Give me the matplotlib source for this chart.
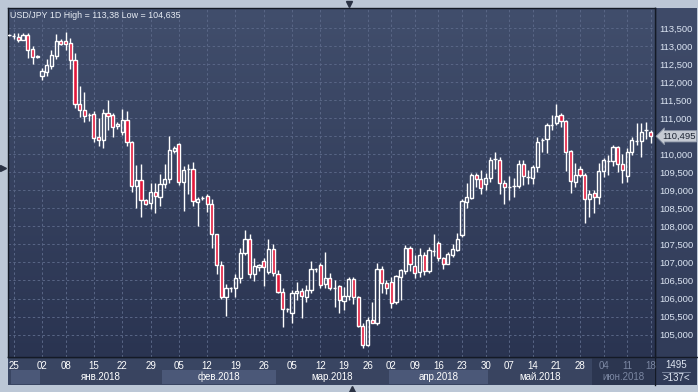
import numpy as np
import matplotlib
matplotlib.use('Agg')
import matplotlib.pyplot as plt
from matplotlib.patches import Rectangle
from matplotlib.colors import LinearSegmentedColormap
from matplotlib.transforms import blended_transform_factory

plt.rcParams['font.family'] = ['Liberation Sans', 'DejaVu Sans']

# daily USD/JPY bars (open, high, low, close)
opens = [113.29, 113.28, 113.26, 113.17, 113.30, 112.91, 112.68, 112.17, 112.28, 112.45,
         112.72, 113.13, 113.13, 113.07, 112.60, 111.38, 111.21, 111.08, 111.10, 110.47,
         110.38, 111.14, 111.08, 110.79, 110.62, 110.96, 110.33, 109.13, 109.28, 108.73,
         108.66, 108.94, 108.82, 109.16, 109.30, 110.09, 110.27, 109.24, 109.58, 109.58,
         108.68, 108.79, 108.85, 108.61, 107.80, 106.92, 106.05, 106.28, 106.28, 106.58,
         107.25, 107.66, 106.67, 106.86, 107.04, 106.74, 107.36, 106.67, 106.19, 105.70,
         105.59, 106.16, 106.21, 106.05, 106.25, 106.81, 106.93, 106.39, 106.56, 106.30,
         106.34, 105.94, 106.07, 106.53, 106.03, 105.24, 104.71, 105.40, 105.33, 106.83,
         106.42, 106.45, 105.90, 106.60, 106.77, 107.39, 106.90, 106.74, 107.20, 106.77,
         107.32, 107.53, 107.11, 106.97, 107.20, 107.34, 107.76, 108.68, 108.78, 109.41,
         109.30, 109.16, 109.35, 109.87, 109.85, 109.19, 109.10, 109.12, 109.12, 109.74,
         109.37, 109.35, 109.65, 110.39, 110.41, 110.80, 110.87, 111.08, 110.92, 110.08,
         109.23, 109.60, 109.42, 108.75, 108.93, 108.80, 109.54, 109.81, 109.81, 110.19,
         109.72, 109.40, 110.06, 110.37, 110.37, 110.67, 110.62]
highs = [113.32, 113.37, 113.35, 113.36, 113.37, 113.00, 112.75, 112.39, 112.63, 112.88,
         113.32, 113.19, 113.38, 113.21, 112.79, 111.89, 111.73, 111.13, 111.19, 111.01,
         111.25, 111.50, 111.13, 110.88, 111.25, 111.19, 110.36, 109.71, 109.74, 108.75,
         109.19, 109.19, 109.45, 109.74, 110.50, 110.22, 110.30, 109.67, 109.74, 109.78,
         108.80, 108.84, 108.89, 108.77, 107.80, 107.05, 106.40, 106.33, 106.69, 107.39,
         107.89, 107.80, 107.11, 106.96, 107.11, 107.64, 107.51, 106.79, 106.28, 105.75,
         106.23, 106.46, 106.28, 106.37, 107.04, 106.85, 106.99, 107.29, 106.71, 106.51,
         106.37, 106.33, 106.60, 106.60, 106.07, 105.31, 105.50, 105.91, 106.99, 106.90,
         106.51, 106.60, 106.65, 106.83, 107.48, 107.45, 107.20, 107.39, 107.30, 107.43,
         107.79, 107.60, 107.16, 107.30, 107.51, 107.82, 108.75, 109.19, 109.48, 109.48,
         109.56, 109.48, 109.93, 110.05, 109.93, 109.28, 109.39, 109.35, 109.85, 109.85,
         109.56, 109.70, 110.48, 110.46, 110.87, 111.08, 111.40, 111.13, 110.96, 110.11,
         109.76, 109.67, 109.48, 109.00, 109.00, 109.76, 109.88, 109.97, 110.25, 110.22,
         110.00, 110.16, 110.48, 110.85, 110.87, 110.90, 110.68]
lows = [113.28, 113.20, 113.11, 113.15, 112.67, 112.49, 112.66, 112.05, 112.17, 112.37,
        112.65, 113.02, 112.88, 112.37, 111.27, 111.04, 110.90, 110.93, 110.33, 110.23,
        110.18, 110.67, 110.48, 110.71, 110.53, 110.23, 108.96, 108.50, 108.27, 108.60,
        108.47, 108.38, 108.56, 109.05, 109.19, 110.02, 109.14, 108.43, 108.89, 108.56,
        108.01, 108.73, 108.40, 107.39, 106.69, 106.00, 105.51, 106.19, 106.05, 106.44,
        107.20, 106.58, 106.49, 106.77, 106.35, 106.68, 106.62, 106.14, 105.22, 105.63,
        105.33, 105.96, 105.45, 105.91, 106.14, 106.74, 106.28, 106.28, 106.23, 105.77,
        105.59, 105.68, 105.96, 105.86, 105.20, 104.635, 104.68, 105.31, 105.26, 106.14,
        106.12, 105.73, 105.85, 105.95, 106.68, 106.77, 106.58, 106.60, 106.65, 106.70,
        107.18, 107.05, 106.83, 106.95, 107.16, 107.32, 107.71, 108.50, 108.75, 109.10,
        108.91, 109.00, 109.23, 109.60, 108.89, 108.62, 108.73, 108.80, 109.05, 109.14,
        109.17, 109.17, 109.51, 110.06, 110.04, 110.68, 110.80, 110.76, 109.54, 108.93,
        109.10, 109.36, 108.10, 108.25, 108.38, 108.63, 109.36, 109.42, 109.67, 109.51,
        109.19, 109.24, 109.97, 110.25, 109.93, 110.43, 110.32]
closes = [113.31, 113.27, 113.17, 113.30, 112.90, 112.68, 112.73, 112.30, 112.47, 112.74,
          113.13, 113.06, 113.06, 112.60, 111.38, 111.21, 111.05, 111.08, 110.46, 110.38,
          111.13, 111.06, 110.76, 110.84, 110.96, 110.33, 109.13, 109.28, 108.73, 108.63,
          108.96, 108.83, 109.16, 109.30, 110.11, 110.16, 109.24, 109.56, 109.58, 108.70,
          108.77, 108.79, 108.61, 107.80, 106.92, 106.05, 106.28, 106.28, 106.58, 107.25,
          107.66, 106.67, 106.90, 106.93, 106.88, 107.36, 106.70, 106.19, 105.70, 105.70,
          106.14, 106.21, 106.07, 106.25, 106.81, 106.81, 106.37, 106.56, 106.30, 106.30,
          105.96, 106.07, 106.53, 106.03, 105.24, 104.71, 105.40, 105.31, 106.83, 106.42,
          106.28, 105.88, 106.62, 106.79, 107.39, 106.95, 106.71, 107.20, 106.77, 107.34,
          107.32, 107.11, 106.97, 107.23, 107.36, 107.64, 108.70, 108.80, 109.41, 109.30,
          109.05, 109.33, 109.85, 109.87, 109.19, 109.10, 109.10, 109.12, 109.74, 109.39,
          109.37, 109.65, 110.34, 110.39, 110.80, 110.80, 111.05, 110.92, 110.07, 109.25,
          109.42, 109.42, 108.75, 108.91, 108.80, 109.53, 109.84, 109.81, 110.20, 109.72,
          109.56, 110.06, 110.39, 110.37, 110.62, 110.67, 110.495]

# axis labels
tick_pos = [1, 7, 12, 18, 24, 30, 36, 42, 48, 54, 60, 66, 71, 76, 81, 86, 91, 96,
            101, 106, 111, 116, 121, 126, 131, 136]
tick_lab = ['25', '02', '08', '15', '22', '29', '05', '12', '19', '26', '05', '12', '19',
            '26', '02', '09', '16', '23', '30', '07', '14', '21', '28', '04', '11', '18']
month_names = ['', 'янв.2018', 'фев.2018', 'мар.2018', 'апр.2018', 'май.2018', 'июн.2018']
month_edges = [0.5, 6.5, 32.5, 56.5, 80.5, 101.5, 123.5, 136.9]
price_ticks = [105.0, 105.5, 106.0, 106.5, 107.0, 107.5, 108.0, 108.5, 109.0,
               109.5, 110.0, 110.5, 111.0, 111.5, 112.0, 112.5, 113.0, 113.5]
total_bars = 1495

o = np.array(opens); h = np.array(highs); l = np.array(lows); c = np.array(closes)
idx = np.arange(len(o))

W, H = 698, 392
fig = plt.figure(figsize=(W / 100, H / 100), dpi=100, facecolor='#bcc7d6')
grad = np.linspace(0, 1, 256).reshape(-1, 1)

# frame / panels in pixel coords
bg = fig.add_axes([0, 0, 1, 1], zorder=-1)
bg.imshow(grad, extent=(8, 697, 385, 8), aspect='auto',
          cmap=LinearSegmentedColormap.from_list('p', ['#3f4b69', '#303b58']))
bg.add_patch(Rectangle((8, 357), 647, 28, color='#394562', lw=0))
bg.plot([8, 697], [357, 357], color='#141a26', lw=1)
bg.plot([655, 655], [8, 385], color='#141a26', lw=1)
bg.plot([662, 690], [371.5, 371.5], color='#8792aa', lw=0.6)
bg.plot(349, 3.5, marker='v', color='#2a3244', ms=5)
bg.plot(352, 389, marker='^', color='#2a3244', ms=5)
bg.plot(3, 168, marker='>', color='#2a3244', ms=5)
bg.set_xlim(0, W)
bg.set_ylim(H, 0)
bg.axis('off')

ax = fig.add_axes([8 / W, 1 - 357 / H, 647 / W, 349 / H])
ax.patch.set_visible(False)
ax.imshow(grad, extent=(0, 1, 0, 1), transform=ax.transAxes, aspect='auto', zorder=0,
          cmap=LinearSegmentedColormap.from_list('g', ['#414e6c', '#2a3451']))

# candles: wicks split so hollow bodies stay empty
up = c >= o
btop = np.maximum(o, c)
bbot = np.minimum(o, c)
ax.vlines(idx, btop, h, color='white', lw=1, zorder=2)
ax.vlines(idx, l, bbot, color='white', lw=1, zorder=2)
ax.bar(idx[up], (c - o)[up], bottom=o[up], width=0.68, facecolor='none',
       edgecolor='white', lw=1, zorder=3)
ax.bar(idx[~up], (o - c)[~up], bottom=c[~up], width=0.68, facecolor='#e3173a',
       edgecolor='white', lw=1, zorder=3)

ax.set_xlim(-0.2, 136.9)
ax.set_ylim(104.38, 114.05)

ylabels = [f'{v:.3f}'.replace('.', ',') for v in price_ticks]
ylabels[price_ticks.index(110.5)] = ''
ax.yaxis.tick_right()
ax.set_yticks(price_ticks, ylabels)
ax.set_xticks(tick_pos, tick_lab)
ax.tick_params(axis='y', length=0, pad=3, labelsize=6.8, labelcolor='#dce5f3')
ax.tick_params(axis='x', length=0, pad=3, labelsize=7, labelcolor='white')
for t in ax.get_xticklabels()[-3:]:
    t.set_color('#7b87a2')
ax.grid(True, color='#596686', ls=(0, (2.5, 2.5)), lw=0.7)
ax.set_axisbelow(True)
for s in ax.spines.values():
    s.set_color('#141a26')
    s.set_linewidth(1)

# month strip (kept under the tick labels, which sit at zorder 0.5)
tr = blended_transform_factory(ax.transData, ax.transAxes)
band_cols = ['#4b5878', '#394460', '#4b5878', '#394460', '#4b5878', '#394460', '#2c3650']
for i, name in enumerate(month_names):
    x0, x1 = month_edges[i], month_edges[i + 1]
    if i == len(month_names) - 1:
        ax.add_patch(Rectangle((x0, -0.08), x1 - x0, 0.08, transform=tr, clip_on=False,
                               color=band_cols[i], lw=0, zorder=0.2))
    else:
        ax.add_patch(Rectangle((x0, -0.077), x1 - x0, 0.04, transform=tr, clip_on=False,
                               color=band_cols[i], lw=0, zorder=0.2))
    if name:
        col = '#7b87a2' if i == len(month_names) - 1 else 'white'
        ax.text((x0 + x1) / 2, -0.058, name, transform=tr, ha='center', va='center',
                fontsize=7, color=col, zorder=4, clip_on=False)

hi, lo = h.max(), l.min()
ax.text(0.003, 0.992, f'USD/JPY 1D High = {hi:g} Low = {lo:g}'.replace('.', ','),
        transform=ax.transAxes, va='top', ha='left', fontsize=6.4, color='#e8edf5', zorder=5)

last = c[-1]
ax.text(1 + 7 / 647, last, f'{last:.3f}'.replace('.', ','),
        transform=blended_transform_factory(ax.transAxes, ax.transData),
        ha='left', va='center', fontsize=6.8, color='#1d2433', clip_on=False, zorder=5,
        bbox=dict(boxstyle='larrow,pad=0.12', fc='#c5cad3', ec='#8e97a8', lw=0.6))

fig.text(676 / W, 1 - 365 / H, str(total_bars), ha='center', va='center',
         fontsize=7, color='#dfe6f2')
fig.text(676 / W, 1 - 378 / H, f'>{len(o)}<', ha='center', va='center',
         fontsize=7, color='#dfe6f2')

fig.savefig('out.png', dpi=100, facecolor=fig.get_facecolor())
